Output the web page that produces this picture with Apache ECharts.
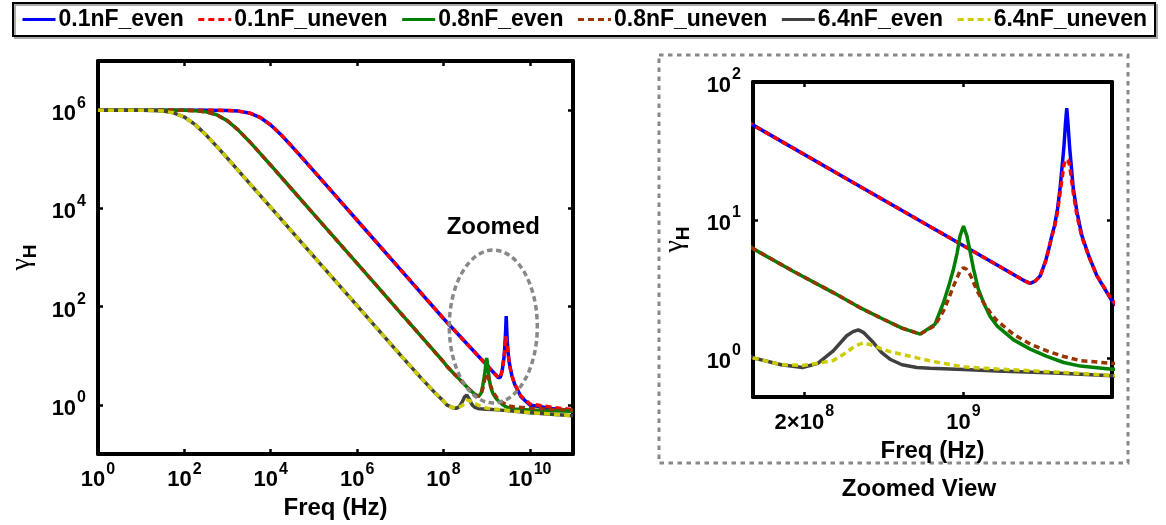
<!DOCTYPE html>
<html><head><meta charset="utf-8">
<script src="https://cdn.jsdelivr.net/npm/echarts@6/dist/echarts.min.js"></script>
<style>html,body{margin:0;padding:0;background:#fff}#c{width:1166px;height:525px}</style>
</head><body><div id="c"></div>
<script>
const NAMES = ['0.1nF_even','0.1nF_uneven','0.8nF_even','0.8nF_uneven','6.4nF_even','6.4nF_uneven'];
const COLORS = ['#0000FF','#FF0000','#008000','#993300','#404040','#CCCC00'];
const DASHED = [false,true,false,true,false,true];

const MAIN_X_TICKS = [1,1e2,1e4,1e6,1e8,1e10];
const MAIN_Y_TICKS = [1,1e2,1e4,1e6];
const ZOOM_X_TICKS = [2e8,1e9];
const ZOOM_Y_TICKS = [1,10,100];

// 0.1 nF
const F_01 = [1,1e2,3.16e2,1e3,1.78e3,3.16e3,5.62e3,1e4,1.78e4,3.16e4,5.62e4,1e5,3.16e5,1e6,1e7,1e8,3.16e8,1e9,1.41e9,1.85e9,1.963e9,2.065e9,2.173e9,2.291e9,2.366e9,2.443e9,2.512e9,2.588e9,2.652e9,2.761e9,2.805e9,2.841e9,2.877e9,2.924e9,3.034e9,3.148e9,3.311e9,3.548e9,3.855e9,4.487e9,6.31e9,1e10,3.16e10,1e11];
const G_01_EVEN = [1e6,1e6,998500,985000,955500,876000,715000,499000,308000,179000,101800,57500,18200,5750,575,57.5,19.3,6.5,4.69,3.62,3.47,3.6,3.93,5.0,6.1,7.69,9.12,12.0,16.6,33.9,50.1,64.6,50.1,33.9,17.0,11.5,7.69,5.5,3.93,2.59,1.45,1.0,0.85,0.76];
const G_01_UNEVEN = [1e6,1e6,998500,985000,955500,876000,715000,499000,308000,179000,101800,57500,18200,5750,575,57.5,19.3,6.5,4.69,3.62,3.47,3.6,3.93,5.0,6.1,7.6,8.9,11.5,15.5,25,27.2,27.7,27.2,25,15.8,10.8,7.5,5.45,3.95,2.62,1.5,1.05,0.9,0.8];
// 0.8 nF
const F_08 = [1,10,31.6,100,178,316,562,1000,1778,3162,5623,1e4,3.16e4,1e5,1e6,1e7,3.16e7,1e8,1.19e8,1.778e8,2.679e8,3.548e8,4.446e8,5.37e8,6.457e8,7.499e8,8.166e8,8.61e8,9.036e8,9.376e8,9.661e8,1e9,1.035e9,1.072e9,1.107e9,1.161e9,1.225e9,1.309e9,1.403e9,1.66e9,1.963e9,2.323e9,2.754e9,3.258e9,4.487e9,1e10,3.16e10,1e11];
const G_08_EVEN = [1e6,1e6,999000,991400,973600,923000,803400,604500,392400,233300,133700,75700,23980,7586,758.6,75.86,23.99,7.586,6.194,4.266,2.972,2.291,1.905,1.641,1.486,1.754,2.512,3.311,4.395,5.754,7.656,9.016,7.656,5.754,4.395,3.162,2.512,1.995,1.706,1.349,1.156,1.023,0.925,0.871,0.828,0.794,0.759,0.741];
const G_08_UNEVEN = [1e6,1e6,999000,991400,973600,923000,803400,604500,392400,233300,133700,75700,23980,7586,758.6,75.86,23.99,7.586,6.194,4.266,2.972,2.291,1.905,1.641,1.486,1.718,2.188,2.692,3.311,3.802,4.266,4.498,4.365,3.981,3.508,2.951,2.512,2.138,1.862,1.479,1.259,1.122,1.023,0.955,0.912,0.861,0.813,0.794];
// 6.4 nF
const F_64 = [1,10,17.8,31.6,56.2,100,178,316,562,1000,3162,1e4,1e5,1e6,1e7,3.16e7,6.31e7,1e8,1.19e8,1.585e8,1.963e8,2.291e8,2.679e8,3.069e8,3.273e8,3.451e8,3.631e8,4.018e8,4.365e8,4.753e8,5.37e8,6.237e8,7.129e8,1e9,1.403e9,2.512e9,4.487e9,1e10,3.16e10,1e11];
const G_64_EVEN = [1e6,995500,985800,957300,881000,723000,507400,314400,183100,104200,33110,10470,1047,104.7,10.47,3.39,1.78,1.2,1.0,0.891,0.851,0.912,1.122,1.445,1.549,1.596,1.531,1.291,1.096,0.977,0.891,0.851,0.84,0.822,0.804,0.776,0.741,0.692,0.646,0.603];
const G_64_UNEVEN = [1e6,995500,985800,957300,881000,723000,507400,314400,183100,104200,33110,10470,1047,104.7,10.47,3.39,1.78,1.2,1.0,0.891,0.881,0.912,0.955,1.096,1.189,1.245,1.282,1.23,1.16,1.11,1.06,1.0,0.95,0.86,0.83,0.79,0.745,0.7,0.65,0.606];

const zip = (f, g) => f.map((x, i) => [x, g[i]]);
const DATA = [zip(F_01,G_01_EVEN), zip(F_01,G_01_UNEVEN), zip(F_08,G_08_EVEN), zip(F_08,G_08_UNEVEN), zip(F_64,G_64_EVEN), zip(F_64,G_64_UNEVEN)];

const FONT = 'Liberation Sans';
const labelRich = {
  b: {fontSize: 22, fontWeight: 'bold', fontFamily: FONT, color: '#000', verticalAlign: 'bottom'},
  s: {fontSize: 16, fontWeight: 'bold', fontFamily: FONT, color: '#000', verticalAlign: 'top', padding: [0, 0, 14, 1]}
};
function powLabel(v) {
  const e = Math.round(Math.log10(v));
  const m = Math.round(v / Math.pow(10, e));
  return (m === 1 ? '{b|10}' : '{b|' + m + '×10}') + '{s|' + e + '}';
}
const gammaName = '{g|γ}{h|H}';
const gammaRich = {
  g: {fontSize: 28, fontFamily: 'Liberation Serif', color: '#000', verticalAlign: 'top'},
  h: {fontSize: 19, fontWeight: 'bold', fontFamily: FONT, color: '#000', verticalAlign: 'bottom', padding: [13, 0, 0, 0]}
};

function axis(kind, grid, pos, min, max, ticks, showLabel, extra) {
  const a = {
    type: 'log', logBase: 10, gridIndex: grid, position: pos, min: min, max: max,
    axisLine: {show: true, onZero: false, lineStyle: {color: '#000', width: 4}},
    axisTick: {show: true, inside: true, length: 5, lineStyle: {color: '#000', width: 2.5}, customValues: ticks},
    axisLabel: {show: showLabel, customValues: ticks, formatter: powLabel, rich: labelRich, margin: kind === 'x' ? 7 : 12},
    splitLine: {show: false}, minorTick: {show: false}, minorSplitLine: {show: false},
    axisPointer: {show: false}
  };
  return Object.assign(a, extra || {});
}
const xName = (gap) => ({name: 'Freq (Hz)', nameLocation: 'middle', nameGap: gap,
  nameTextStyle: {fontSize: 24, fontWeight: 'bold', fontFamily: FONT, color: '#000'}});
const yName = (gap) => ({name: gammaName, nameLocation: 'middle', nameGap: gap, nameRotate: 90,
  nameTextStyle: {rich: gammaRich}});

const MAIN_X = [1, 1e11], MAIN_Y = [0.1, 1e7];
const ZOOM_X = [1.19e8, 4.49e9], ZOOM_Y = [0.52, 100];

const series = [];
[0, 1].forEach(p => {
  DATA.forEach((d, i) => {
    series.push({
      type: 'line', name: NAMES[i], xAxisIndex: p * 2, yAxisIndex: p * 2, data: d,
      showSymbol: false, symbol: 'none', color: COLORS[i], animation: false, silent: true,
      lineStyle: {color: COLORS[i], width: 3.5, type: DASHED[i] ? [6, 4] : 'solid', cap: 'butt'},
      z: 2 + i
    });
  });
});

const chart = echarts.init(document.getElementById('c'), null, {renderer: 'canvas'});
chart.setOption({
  animation: false,
  backgroundColor: '#fff',
  legend: {
    data: NAMES, top: 3, left: 13, orient: 'horizontal',
    itemWidth: 33, itemHeight: 14, itemGap: 13, padding: [5, 8, 5, 8],
    borderColor: '#000', borderWidth: 2, backgroundColor: '#fff',
    shadowColor: '#aaa', shadowOffsetX: 2, shadowOffsetY: 2, shadowBlur: 0,
    selectedMode: false,
    itemStyle: {opacity: 0},
    lineStyle: {width: 3},
    textStyle: {fontSize: 23, fontWeight: 'bold', fontFamily: FONT, color: '#000', padding: [0, 0, 0, -2]}
  },
  grid: [
    {left: 98, top: 61, width: 475, height: 400, containLabel: false},
    {left: 753, top: 82, width: 359, height: 315, containLabel: false}
  ],
  xAxis: [
    axis('x', 0, 'bottom', MAIN_X[0], MAIN_X[1], MAIN_X_TICKS, true, xName(37)),
    axis('x', 0, 'top', MAIN_X[0], MAIN_X[1], MAIN_X_TICKS, false),
    axis('x', 1, 'bottom', ZOOM_X[0], ZOOM_X[1], ZOOM_X_TICKS, true, xName(37)),
    axis('x', 1, 'top', ZOOM_X[0], ZOOM_X[1], ZOOM_X_TICKS, false)
  ],
  yAxis: [
    axis('y', 0, 'left', MAIN_Y[0], MAIN_Y[1], MAIN_Y_TICKS, true, yName(58)),
    axis('y', 0, 'right', MAIN_Y[0], MAIN_Y[1], MAIN_Y_TICKS, false),
    axis('y', 1, 'left', ZOOM_Y[0], ZOOM_Y[1], ZOOM_Y_TICKS, true, yName(60)),
    axis('y', 1, 'right', ZOOM_Y[0], ZOOM_Y[1], ZOOM_Y_TICKS, false)
  ],
  series: series,
  graphic: [
    {type: 'rect', z: 0, shape: {x: 659, y: 55, width: 469, height: 408},
     style: {fill: 'none', stroke: '#888', lineWidth: 3, lineDash: [4.5, 4.5]}},
    {type: 'ellipse', z: 100, shape: {cx: 493.3, cy: 326.5, rx: 44, ry: 76.5},
     style: {fill: 'none', stroke: '#888', lineWidth: 3.5, lineDash: [5.5, 3.5]}},
    {type: 'text', z: 100, x: 493.3, y: 227.5,
     style: {text: 'Zoomed', font: 'bold 24px "Liberation Sans"', fill: '#000', textAlign: 'center', textVerticalAlign: 'middle', verticalAlign: 'middle'}},
    {type: 'text', z: 100, x: 919, y: 489,
     style: {text: 'Zoomed View', font: 'bold 24px "Liberation Sans"', fill: '#000', textAlign: 'center', textVerticalAlign: 'middle', verticalAlign: 'middle'}}
  ]
});
</script>
</body></html>
